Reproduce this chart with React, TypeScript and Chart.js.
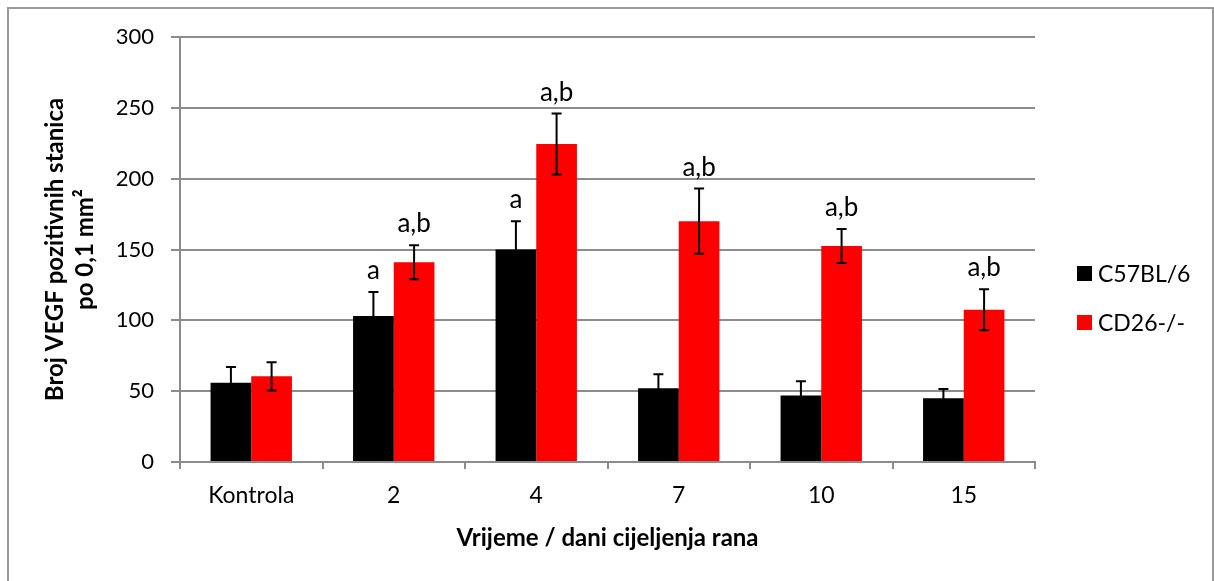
import React, { useEffect, useRef } from "react";
import { Chart, registerables } from "chart.js";

Chart.register(...registerables);

const categories = ["Kontrola", "2", "4", "7", "10", "15"];
const seriesNames = ["C57BL/6", "CD26-/-"];
const blackMeans = [56, 103, 150, 52, 47, 45];
const blackErrors = [11, 17, 20, 10, 10, 6.5];
const redMeans = [60.5, 141, 224.5, 170, 152.5, 107.5];
const redErrors = [10, 12, 21.5, 23, 12, 14.5];
const blackLabels = ["", "a", "a", "", "", ""];
const redLabels = ["", "a,b", "a,b", "a,b", "a,b", "a,b"];
const yTicks = [0, 50, 100, 150, 200, 250, 300];

const seriesColors = ["#000000", "#ff0000"];
const errorsBySeries = [blackErrors, redErrors];
const labelsBySeries = [blackLabels, redLabels];

const FONT = "Lato, 'Open Sans', sans-serif";

const errorBarPlugin = {
  id: "errorBars",
  afterDatasetsDraw(chart: any) {
    const ctx = chart.ctx;
    const yScale = chart.scales.y;
    chart.data.datasets.forEach((ds: any, di: number) => {
      const meta = chart.getDatasetMeta(di);
      const errs = errorsBySeries[di];
      const labs = labelsBySeries[di];
      meta.data.forEach((bar: any, i: number) => {
        const v = ds.data[i];
        const e = errs[i];
        const x = bar.x;
        const yTop = yScale.getPixelForValue(v + e);
        const yBot = yScale.getPixelForValue(v - e);
        ctx.save();
        ctx.strokeStyle = "#000";
        ctx.lineWidth = 2;
        ctx.beginPath();
        ctx.moveTo(x, yTop);
        ctx.lineTo(x, yBot);
        ctx.moveTo(x - 5, yTop);
        ctx.lineTo(x + 5, yTop);
        ctx.moveTo(x - 5, yBot);
        ctx.lineTo(x + 5, yBot);
        ctx.stroke();
        if (labs[i]) {
          ctx.fillStyle = "#000";
          ctx.font = "26px " + FONT;
          ctx.textAlign = "center";
          ctx.textBaseline = "alphabetic";
          ctx.fillText(labs[i], x, yTop - 13);
        }
        ctx.restore();
      });
    });
  },
};

export default function App() {
  const canvasRef = useRef<HTMLCanvasElement | null>(null);

  useEffect(() => {
    if (!canvasRef.current) return;
    const gridColor = "#8c8c8c";
    const chart = new Chart(canvasRef.current, {
      type: "bar",
      data: {
        labels: categories,
        datasets: [
          {
            label: seriesNames[0],
            data: blackMeans,
            backgroundColor: seriesColors[0],
            barPercentage: 1,
            categoryPercentage: 0.571,
          },
          {
            label: seriesNames[1],
            data: redMeans,
            backgroundColor: seriesColors[1],
            barPercentage: 1,
            categoryPercentage: 0.571,
          },
        ],
      },
      options: {
        responsive: false,
        animation: false,
        layout: { padding: { top: 37, right: 179, left: 0, bottom: 0 } },
        plugins: {
          legend: { display: false },
          tooltip: { enabled: false },
        },
        scales: {
          x: {
            grid: {
              drawOnChartArea: false,
              color: gridColor,
              lineWidth: 2,
              tickLength: 7,
              offset: true,
            },
            border: { color: gridColor, width: 2 },
            ticks: {
              color: "#000",
              font: { family: FONT, size: 23 },
              padding: 13,
            },
            title: {
              display: true,
              text: "Vrijeme / dani cijeljenja rana",
              color: "#000",
              font: { family: FONT, size: 24, weight: "bold" },
              padding: { top: 0, bottom: 28 },
            },
            afterFit: (s: any) => {
              s.height = 119;
            },
          },
          y: {
            min: 0,
            max: 300,
            afterBuildTicks: (s: any) => {
              s.ticks = yTicks.map((v) => ({ value: v }));
            },
            grid: { color: gridColor, lineWidth: 2, tickLength: 9 },
            border: { color: gridColor, width: 2 },
            ticks: {
              color: "#000",
              font: { family: FONT, size: 22 },
              padding: 17,
            },
            title: {
              display: true,
              text: ["Broj VEGF pozitivnih stanica", "po 0,1 mm²"],
              color: "#000",
              font: { family: FONT, size: 24, weight: "bold", lineHeight: 1.25 },
              padding: { top: 40, bottom: 0 },
            },
            afterFit: (s: any) => {
              s.width = 180;
            },
          },
        },
      },
      plugins: [errorBarPlugin],
    } as any);
    return () => chart.destroy();
  }, []);

  return (
    <div>
      <div
        style={{
          position: "fixed",
          left: 7,
          top: 7,
          width: 1207,
          height: 600,
          boxSizing: "border-box",
          border: "2px solid #999",
          background: "#fff",
        }}
      />
      <canvas
        ref={canvasRef}
        width={1214}
        height={581}
        style={{ position: "fixed", left: 0, top: 0, width: 1214, height: 581 }}
      />
      <div
        style={{
          position: "fixed",
          left: 1077,
          top: 257,
          fontFamily: FONT,
          fontSize: 23,
          color: "#000",
        }}
      >
        {seriesNames.map((name, i) => (
          <div
            key={name}
            style={{ display: "flex", alignItems: "center", height: 32, marginBottom: i === 0 ? 17 : 0 }}
          >
            <span
              style={{
                display: "inline-block",
                width: 15,
                height: 15,
                background: seriesColors[i],
                marginRight: 6,
              }}
            />
            <span>{name}</span>
          </div>
        ))}
      </div>
    </div>
  );
}
